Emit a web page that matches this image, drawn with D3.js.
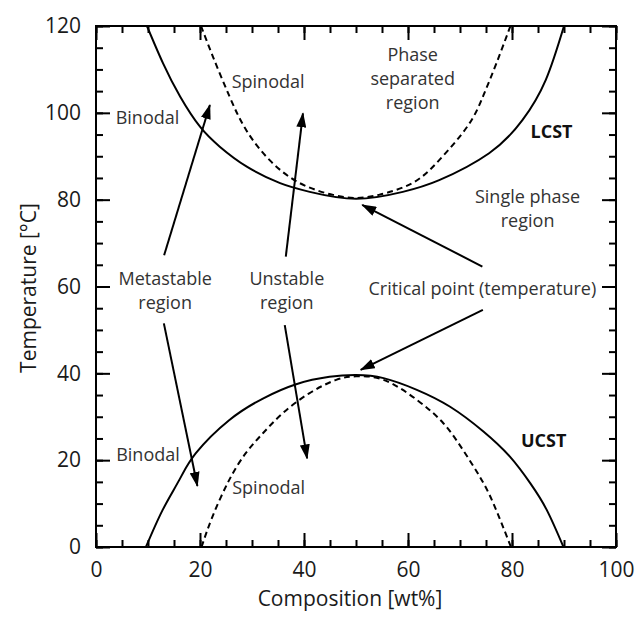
<!DOCTYPE html>
<html>
<head>
<meta charset="utf-8">
<script src="https://d3js.org/d3.v7.min.js"></script>
<style>
    body { margin: 0; background: #fff; }
    text { font-family: "Open Sans", "Noto Sans", sans-serif; }
</style>
</head>
<body>
<div id="chart"></div>
<script>
// curves (composition in wt%, temperature in °C)
const lcstBinodalComp = [9.8, 12.9, 16.2, 20, 23.8, 29, 35.4, 41.1, 50, 59, 66, 75.6, 82, 86.5, 90];
const lcstBinodalTemp = [120, 111.4, 103.7, 96.8, 92.2, 87.6, 83.8, 81.8, 80.2, 81.8, 84.5, 90.7, 98.3, 107.6, 120];

const lcstSpinodalComp = [20.2, 22.5, 25.7, 28.9, 33.4, 39.2, 45.6, 50, 54.4, 60.8, 66, 71.5, 74.5, 77, 79.7];
const lcstSpinodalTemp = [120, 112.9, 103.7, 96, 89.1, 83.8, 81.1, 80.4, 81.1, 83.8, 89.1, 97, 104, 111.4, 120];

const ucstBinodalComp = [9.6, 12.8, 16, 19.2, 25.6, 32.1, 38.5, 44.9, 50, 55.3, 61.7, 68.1, 74.5, 79.6, 83.5, 86.7, 89.9];
const ucstBinodalTemp = [0, 8.5, 15.4, 21.6, 29.2, 34.2, 37.5, 39.2, 39.6, 38.9, 36.2, 32.3, 26.6, 20.8, 14.7, 8.5, 0];

const ucstSpinodalComp = [20.3, 22.4, 25.6, 28.8, 32.1, 35.9, 41, 46.2, 50, 55.3, 61.7, 66.8, 70.6, 73.8, 76.4, 79.8];
const ucstSpinodalTemp = [0, 7, 15.4, 21.6, 26.2, 30.8, 35.4, 38.5, 39.3, 38.5, 33.9, 28.5, 22.3, 16.2, 10.1, 0];

// annotations (anchor = centre of first baseline, in data units)
const labelTexts = ["Binodal", "Spinodal", "Phase\nseparated\nregion", "LCST", "Single phase\nregion",
    "Critical point (temperature)", "Metastable\nregion", "Unstable\nregion", "Binodal", "Spinodal", "UCST"];
const labelComp = [9.9, 33.1, 60.9, 87.6, 83.0, 74.3, 13.3, 36.7, 10.0, 33.2, 86.1];
const labelTemp = [97.4, 105.8, 112.0, 94.1, 79.3, 58.0, 60.3, 60.3, 19.9, 12.2, 23.0];
const labelBold = ["LCST", "UCST"];

const arrowFromComp = [13.1, 36.5, 13.05, 36.3, 74.3, 74.4];
const arrowFromTemp = [67.2, 66.9, 51.5, 51.1, 64.6, 54.6];
const arrowToComp = [21.9, 39.8, 19.5, 40.6, 51.2, 50.9];
const arrowToTemp = [101.8, 99.9, 14.05, 20.4, 78.8, 40.8];

const xTicks = [0, 20, 40, 60, 80, 100];
const yTicks = [0, 20, 40, 60, 80, 100, 120];

let settings = {
    width: 638,
    height: 617,
    left: 96,
    top: 26,
    right: 616,
    bottom: 547,
};

let svg = d3.select("#chart").append("svg")
    .attr("width", settings.width)
    .attr("height", settings.height);

let x = d3.scaleLinear().domain([0, 100]).range([settings.left, settings.right]);
let y = d3.scaleLinear().domain([0, 120]).range([settings.bottom, settings.top]);

let defs = svg.append("defs");
defs.append("marker")
    .attr("id", "head")
    .attr("markerUnits", "userSpaceOnUse")
    .attr("viewBox", "0 -5 15 10")
    .attr("refX", 14)
    .attr("refY", 0)
    .attr("markerWidth", 15)
    .attr("markerHeight", 10)
    .attr("orient", "auto")
    .append("path")
    .attr("d", "M0,-5L15,0L0,5Z")
    .attr("fill", "#000");

defs.append("clipPath")
    .attr("id", "plot")
    .append("rect")
    .attr("x", settings.left)
    .attr("y", settings.top)
    .attr("width", settings.right - settings.left)
    .attr("height", settings.bottom - settings.top);

// ticks, all pointing inwards
function addAxis(axis, transform, size, values, labels) {
    let g = svg.append("g")
        .attr("transform", transform)
        .call(axis.tickValues(values).tickSize(-size).tickPadding(15)
            .tickFormat(labels ? d3.format("d") : ""));
    g.select(".domain").remove();
    g.selectAll("line").attr("stroke", "#000").attr("stroke-width", 2);
    g.selectAll("text")
        .style("font-family", "'Open Sans', sans-serif")
        .style("font-size", "21px")
        .attr("fill", "#1a1a1a");
    return g;
}

let xMinor = d3.range(0, 101, 5);
let yMinor = d3.range(0, 121, 5);

addAxis(d3.axisBottom(x), "translate(0," + settings.bottom + ")", 7, xMinor, false);
addAxis(d3.axisTop(x), "translate(0," + settings.top + ")", 7, xMinor, false);
addAxis(d3.axisLeft(y), "translate(" + settings.left + ",0)", 7, yMinor, false);
addAxis(d3.axisRight(y), "translate(" + settings.right + ",0)", 7, yMinor, false);

addAxis(d3.axisBottom(x), "translate(0," + settings.bottom + ")", 14, xTicks, true);
addAxis(d3.axisTop(x), "translate(0," + settings.top + ")", 14, xTicks, false);
addAxis(d3.axisLeft(y), "translate(" + settings.left + ",0)", 14, yTicks, true);
addAxis(d3.axisRight(y), "translate(" + settings.right + ",0)", 14, yTicks, false);

svg.append("rect")
    .attr("x", settings.left)
    .attr("y", settings.top)
    .attr("width", settings.right - settings.left)
    .attr("height", settings.bottom - settings.top)
    .attr("fill", "none")
    .attr("stroke", "#000")
    .attr("stroke-width", 2);

// curves
let line = d3.line()
    .x(d => x(d[0]))
    .y(d => y(d[1]))
    .curve(d3.curveNatural);

let curves = [
    {comp: lcstBinodalComp, temp: lcstBinodalTemp, dash: null},
    {comp: lcstSpinodalComp, temp: lcstSpinodalTemp, dash: "6,4"},
    {comp: ucstBinodalComp, temp: ucstBinodalTemp, dash: null},
    {comp: ucstSpinodalComp, temp: ucstSpinodalTemp, dash: "6,4"},
];

svg.append("g")
    .attr("clip-path", "url(#plot)")
    .selectAll("path")
    .data(curves)
    .enter().append("path")
    .attr("fill", "none")
    .attr("stroke", "#000")
    .attr("stroke-width", 2)
    .attr("stroke-dasharray", d => d.dash)
    .attr("d", d => line(d.comp.map((c, i) => [c, d.temp[i]])));

// arrows
svg.append("g")
    .selectAll("line")
    .data(arrowFromComp.map((c, i) => i))
    .enter().append("line")
    .attr("x1", i => x(arrowFromComp[i]))
    .attr("y1", i => y(arrowFromTemp[i]))
    .attr("x2", i => x(arrowToComp[i]))
    .attr("y2", i => y(arrowToTemp[i]))
    .attr("stroke", "#000")
    .attr("stroke-width", 2)
    .attr("marker-end", "url(#head)");

// labels
let labels = svg.append("g")
    .selectAll("text")
    .data(labelTexts.map((t, i) => i))
    .enter().append("text")
    .attr("text-anchor", "middle")
    .attr("x", i => x(labelComp[i]))
    .attr("y", i => y(labelTemp[i]))
    .style("font-size", "18px")
    .style("font-weight", i => labelBold.includes(labelTexts[i]) ? "bold" : "normal")
    .attr("fill", i => labelBold.includes(labelTexts[i]) ? "#111" : "#333");

labels.each(function (i) {
    let el = d3.select(this);
    labelTexts[i].split("\n").forEach((part, k) => {
        el.append("tspan")
            .attr("x", x(labelComp[i]))
            .attr("dy", k === 0 ? 0 : 24)
            .text(part);
    });
});

// axis titles
svg.append("text")
    .attr("x", 350)
    .attr("y", 606)
    .attr("text-anchor", "middle")
    .style("font-size", "21px")
    .attr("fill", "#1a1a1a")
    .text("Composition [wt%]");

svg.append("text")
    .attr("transform", "translate(36,288) rotate(-90)")
    .attr("text-anchor", "middle")
    .style("font-size", "21px")
    .attr("fill", "#1a1a1a")
    .text("Temperature [°C]");
</script>
</body>
</html>
